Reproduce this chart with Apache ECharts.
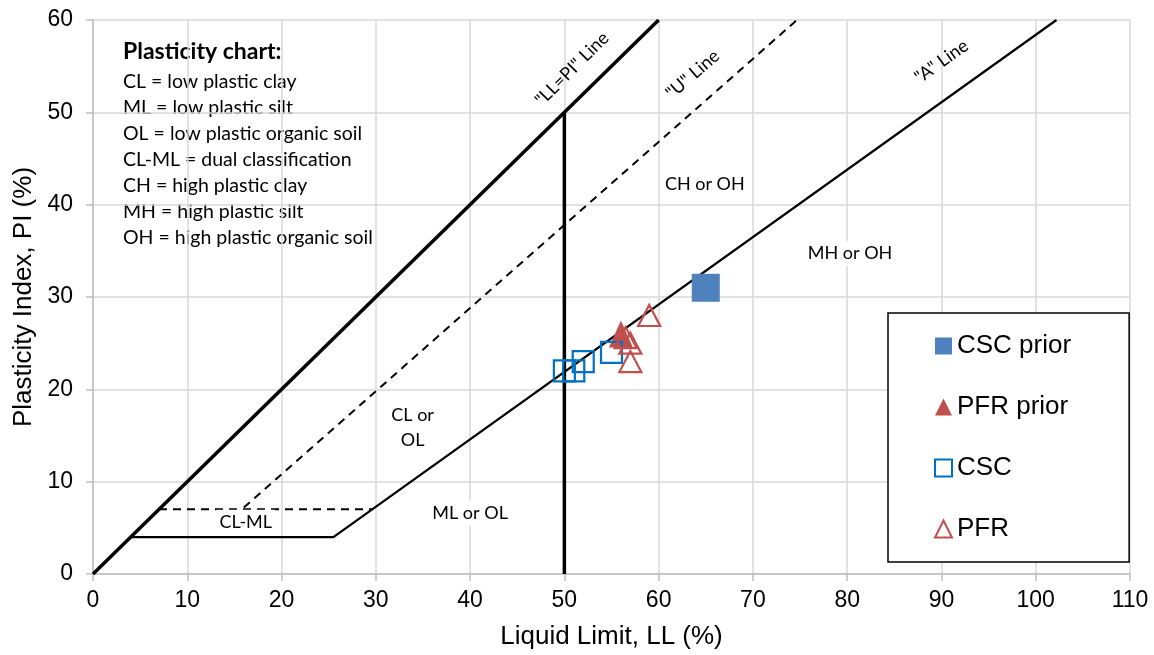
<!DOCTYPE html>
<html>
<head>
<meta charset="utf-8">
<script src="https://cdn.jsdelivr.net/npm/echarts@6/dist/echarts.min.js"></script>
<style>
  html, body { margin: 0; padding: 0; background: #fff; }
  #chart { width: 1154px; height: 655px; }
</style>
</head>
<body>
<div id="chart"></div>
<script>
// boundary lines of the plasticity chart, [LL, PI]
var llPiLine = [[0, 0], [60, 60]];
var uLine = [[16, 7.2], [74.67, 60]];
var uFoot = [[7, 7], [29.6, 7]];
var aLine = [[4, 4], [25.5, 4], [102.2, 60]];
var ll50Line = [[50, 0], [50, 50]];

// samples
var cscPrior = [[65, 31]];
var pfrPrior = [[56, 26]];
var csc = [[50, 22], [51, 22], [52, 23], [55, 24]];
var pfr = [[56.5, 25.6], [57, 25], [57, 23], [59, 28]];

// zone labels
var zoneText = ['CH or OH', 'MH or OH', 'CL or\nOL', 'ML or OL', 'CL-ML'];
var zonePos = [[64.9, 42.2], [80.3, 34.7], [33.9, 15.9], [40, 6.6], [16.2, 5.6]];
var lineText = ['"LL=PI" Line', '"U" Line', '"A" Line'];
var linePos = [[50.8, 54.7], [63.6, 54.1], [90, 55.5]];
var lineAngle = [45, 41, 35.5];

var legendNames = ['CSC prior', 'PFR prior', 'CSC', 'PFR'];

var noteTitle = 'Plasticity chart:';
var noteLines = [
  'CL = low plastic clay',
  'ML = low plastic silt',
  'OL = low plastic organic soil',
  'CL-ML = dual classification',
  'CH = high plastic clay',
  'MH = high plastic silt',
  'OH = high plastic organic soil'
];

var AX = 'Liberation Sans';
var NOTE = 'Lato';

function boundary(data, width, dashed) {
  return {
    type: 'line', data: data, showSymbol: false, silent: true,
    lineStyle: { color: '#000', width: width, type: dashed ? [8, 6] : 'solid' },
    z: 2
  };
}

var zoneData = zoneText.map(function (t, i) {
  return { value: zonePos[i], name: t };
});
var lineData = lineText.map(function (t, i) {
  return { value: linePos[i], name: t, label: { rotate: lineAngle[i] } };
});

var chart = echarts.init(document.getElementById('chart'));
var option = {
  animation: false,
  backgroundColor: '#fff',
  grid: { left: 93, right: 24, top: 20, bottom: 81 },
  xAxis: {
    type: 'value', min: 0, max: 110, interval: 10,
    name: 'Liquid Limit, LL (%)', nameLocation: 'middle', nameGap: 50,
    nameTextStyle: { fontFamily: AX, fontSize: 26, color: '#000' },
    axisLine: { show: true, lineStyle: { color: '#bfbfbf', width: 1.5 } },
    axisTick: { show: true, length: 7, lineStyle: { color: '#bfbfbf', width: 1.5 } },
    axisLabel: { fontFamily: AX, fontSize: 23, color: '#000', margin: 15 },
    splitLine: { lineStyle: { color: '#d9d9d9', width: 1.5 } }
  },
  yAxis: {
    type: 'value', min: 0, max: 60, interval: 10,
    name: 'Plasticity Index, PI (%)', nameLocation: 'middle', nameGap: 56,
    nameTextStyle: { fontFamily: AX, fontSize: 26, color: '#000' },
    axisLine: { show: true, lineStyle: { color: '#bfbfbf', width: 1.5 } },
    axisTick: { show: true, length: 7, lineStyle: { color: '#bfbfbf', width: 1.5 } },
    axisLabel: { fontFamily: AX, fontSize: 23, color: '#000', margin: 20 },
    splitLine: { lineStyle: { color: '#d9d9d9', width: 1.5 } }
  },
  legend: {
    data: legendNames,
    orient: 'vertical', left: 888, top: 313,
    padding: [20, 58, 20, 46],
    itemGap: 35, itemWidth: 17, itemHeight: 17,
    backgroundColor: '#fff', borderColor: '#000', borderWidth: 1.5,
    textStyle: { fontFamily: AX, fontSize: 26, color: '#000' },
    selectedMode: false
  },
  graphic: [{
    type: 'group', left: 103, top: 32, z: 3,
    children: [
      { type: 'rect', shape: { x: 0, y: 0, width: 274, height: 216 }, style: { fill: '#fff' } },
      { type: 'text', x: 20, y: 8, style: { text: noteTitle, font: 'bold 23px ' + NOTE, fill: '#000' } },
      { type: 'text', x: 20, y: 37, style: { text: noteLines.join('\n'), font: '19.5px ' + NOTE, lineHeight: 26, fill: '#000' } }
    ]
  }],
  series: [
    boundary(llPiLine, 3.5, false),
    boundary(ll50Line, 3.5, false),
    boundary(uLine, 2, true),
    boundary(uFoot, 2, true),
    boundary(aLine, 2.2, false),
    {
      type: 'scatter', name: 'zones', data: zoneData, symbolSize: 0, silent: true, z: 3,
      itemStyle: { opacity: 1 },
      label: {
        show: true, position: 'inside', formatter: '{b}', fontFamily: NOTE, fontSize: 18,
        color: '#000', lineHeight: 25, backgroundColor: '#fff', padding: [0, 3]
      }
    },
    {
      type: 'scatter', name: 'lineNames', data: lineData, symbolSize: 0, silent: true, z: 3,
      itemStyle: { opacity: 1 },
      label: { show: true, position: 'inside', formatter: '{b}', fontFamily: NOTE, fontSize: 18, color: '#000' }
    },
    {
      type: 'scatter', name: 'CSC prior', data: cscPrior, symbol: 'rect', symbolSize: 28, z: 5,
      itemStyle: { color: '#4F81BD', opacity: 1 }
    },
    {
      type: 'scatter', name: 'PFR prior', data: pfrPrior, symbol: 'triangle', symbolSize: [24, 27], z: 5,
      itemStyle: { color: '#C0504D', opacity: 1 }
    },
    {
      type: 'scatter', name: 'CSC', data: csc, symbol: 'rect', symbolSize: 21, z: 5,
      itemStyle: { color: 'rgba(255,255,255,0)', borderColor: '#0070C0', borderWidth: 2.2, opacity: 1 }
    },
    {
      type: 'scatter', name: 'PFR', data: pfr, symbol: 'triangle', symbolSize: [22, 21], z: 5,
      itemStyle: { color: 'rgba(255,255,255,0)', borderColor: '#C0504D', borderWidth: 2.2, opacity: 1 }
    }
  ]
};
chart.setOption(option);
</script>
</body>
</html>
